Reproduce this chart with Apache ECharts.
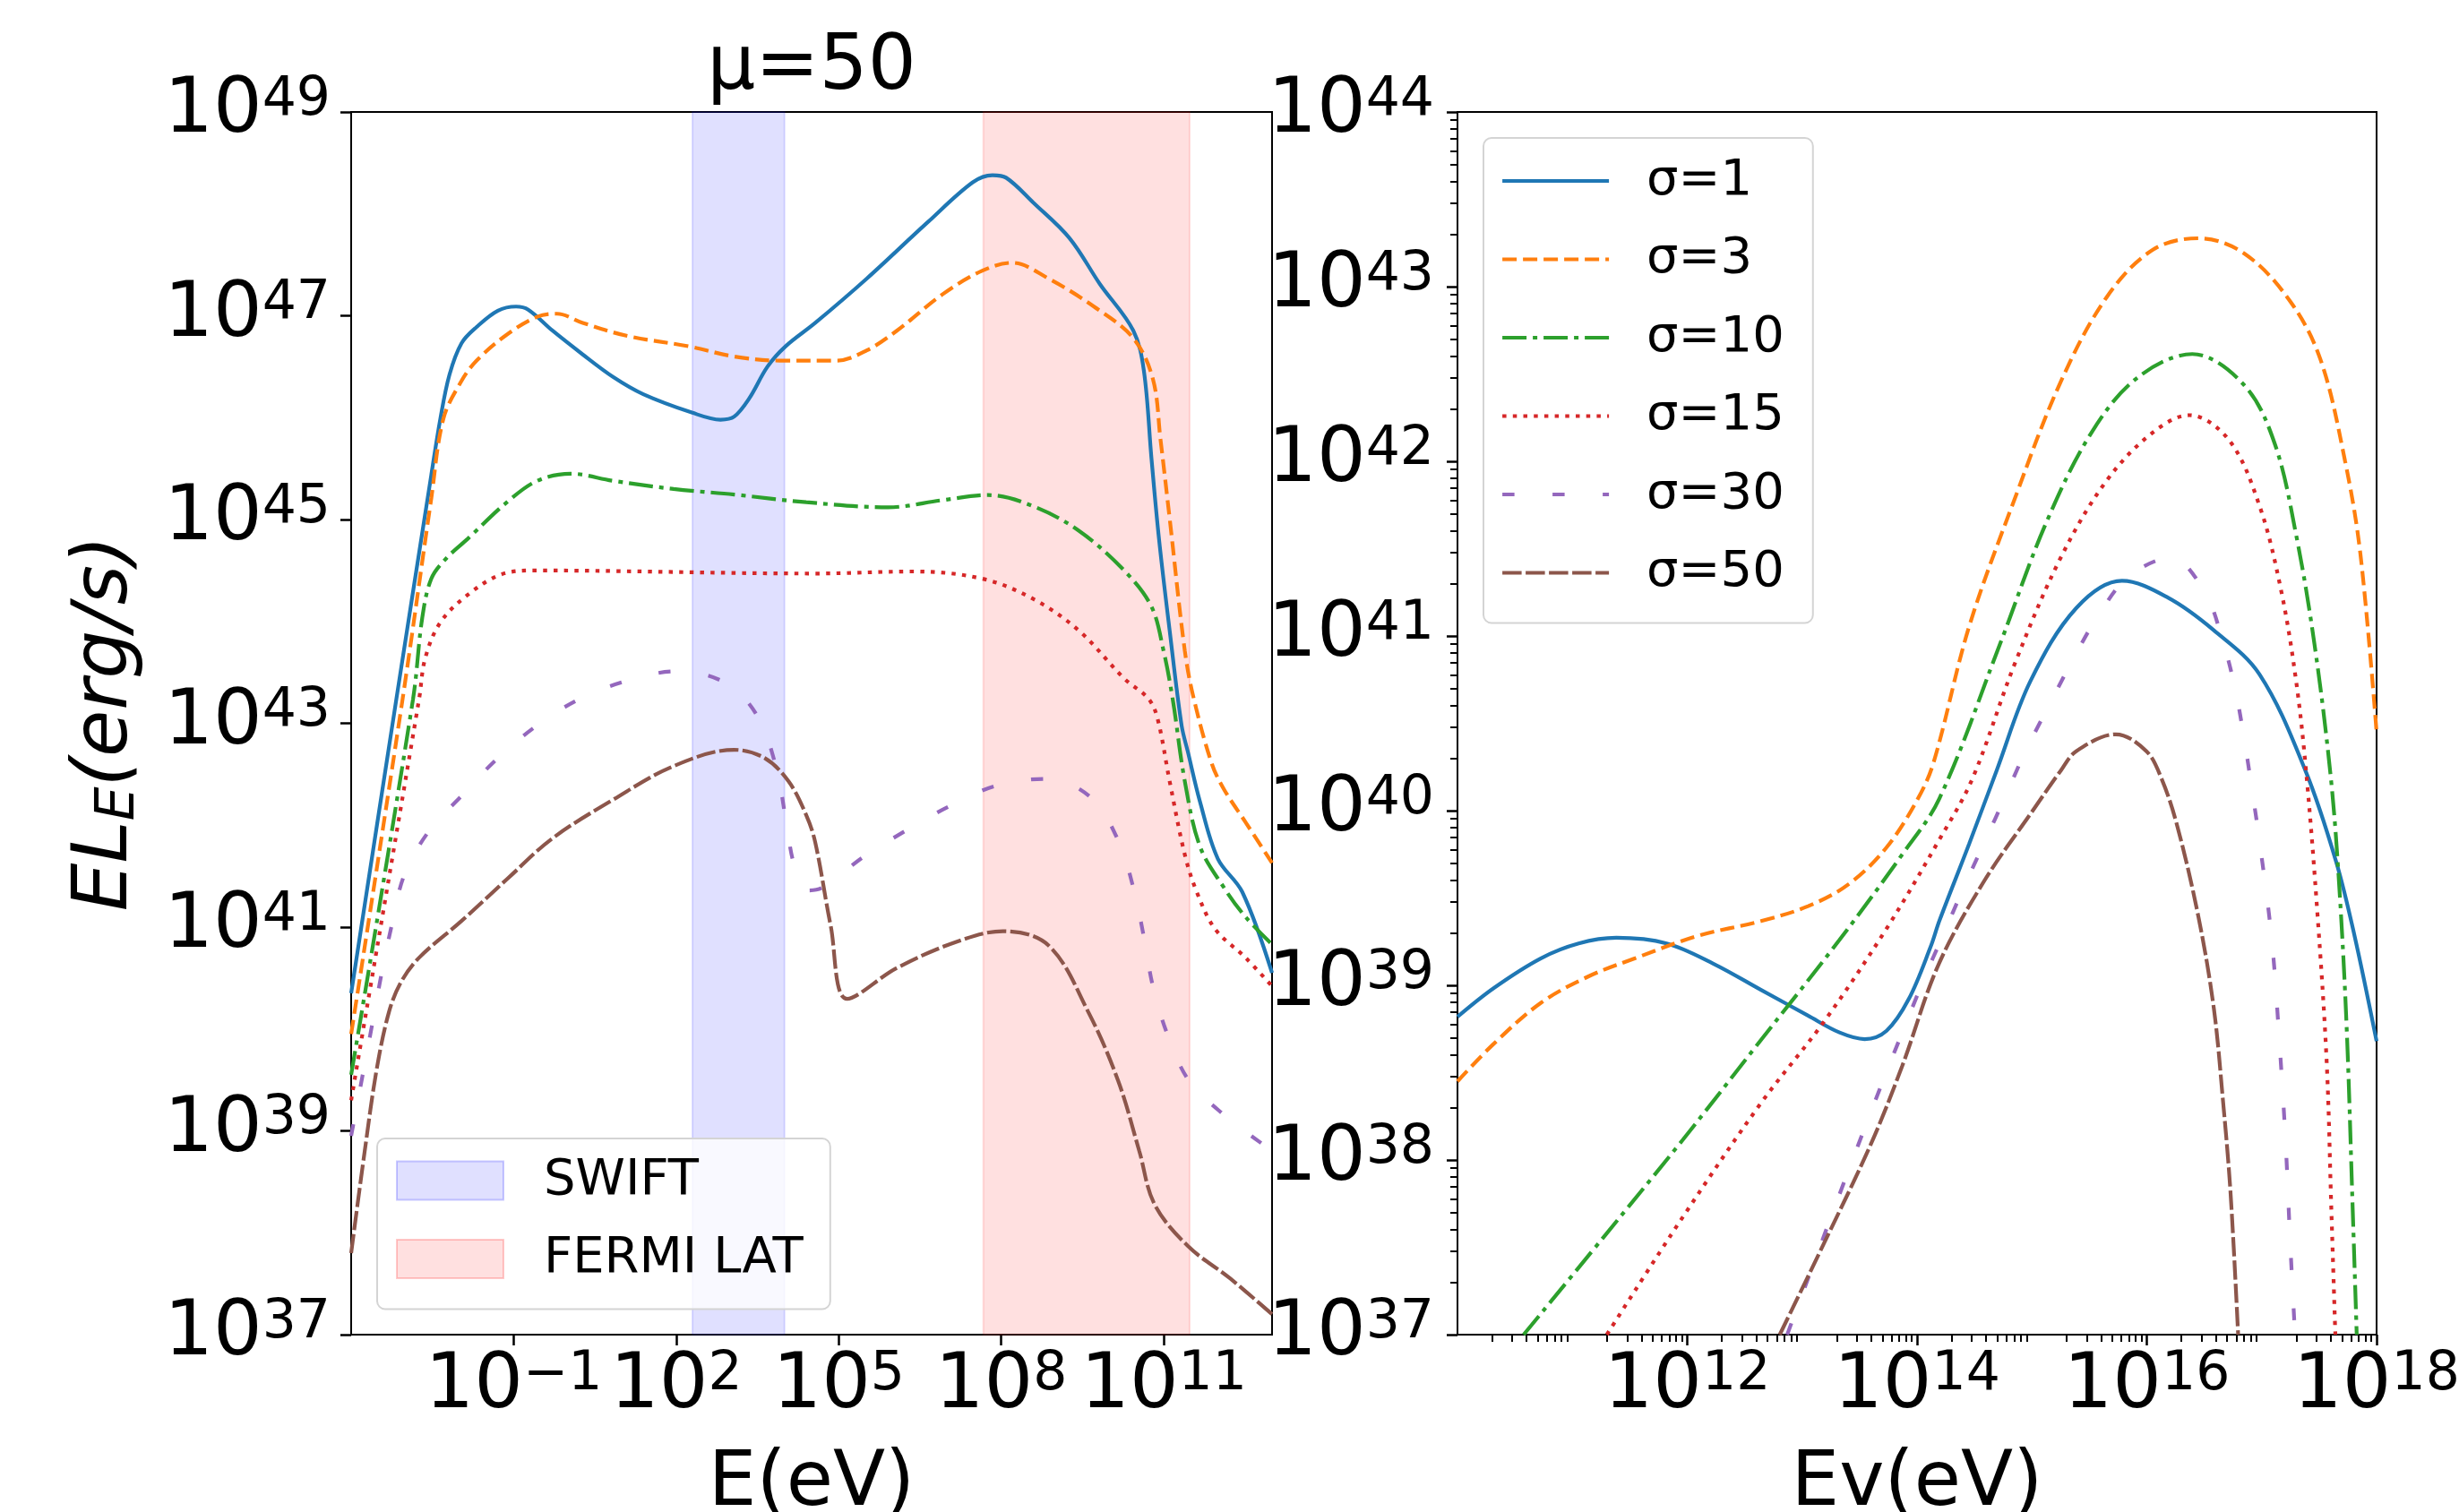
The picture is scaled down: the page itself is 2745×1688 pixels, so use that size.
<!DOCTYPE html>
<html><head><meta charset="utf-8">
<script src="https://cdn.jsdelivr.net/npm/echarts@6/dist/echarts.min.js"></script>
<style>html,body{margin:0;padding:0;background:#fff}#c{width:2745px;height:1688px}</style>
</head><body><div id="c"></div>
<script>
// ---- names & tick labels ----
const seriesNames = ['σ=1', 'σ=3', 'σ=10', 'σ=15', 'σ=30', 'σ=50'];
const bandNames = ['SWIFT', 'FERMI LAT'];
const leftXTicks = [-1, 2, 5, 8, 11];          // exponents of 10 (eV)
const leftYTicks = [37, 39, 41, 43, 45, 47, 49];
const rightXTicks = [12, 14, 16, 18];
const rightYTicks = [37, 38, 39, 40, 41, 42, 43, 44];
// instrument bands, log10(E/eV)
const swiftBand = [2.30, 4.0];
const fermiBand = [7.67, 11.48];

// ---- left panel: [log10 E(eV), log10 EL_E(erg/s)] ----
const left1 = [[-4.0,40.35],[-3.165,43.24],[-2.52,45.44],[-2.353,45.99],[-2.186,46.42],[-1.963,46.73],[-1.683,46.89],[-1.291,47.05],[-0.955,47.09],[-0.732,47.06],[-0.286,46.855],[0.275,46.62],[0.834,46.40],[1.393,46.23],[2.288,46.05],[2.818,45.98],[3.07,46.01],[3.35,46.19],[3.685,46.50],[4.02,46.70],[4.568,46.93],[5.519,47.365],[6.637,47.915],[7.475,48.31],[7.839,48.38],[8.09,48.355],[8.593,48.11],[9.264,47.76],[9.823,47.31],[10.438,46.855],[10.634,46.46],[10.774,45.6],[10.913,44.81],[11.11,43.91],[11.33,42.98],[11.446,42.72],[11.67,42.23],[12.0,41.67],[12.45,41.345],[13.0,40.55]];
const left3 = [[-4.0,39.95],[-3.05,43.24],[-2.52,45.21],[-2.297,45.99],[-1.963,46.36],[-1.683,46.56],[-1.124,46.815],[-0.565,46.99],[-0.2,47.02],[0.275,46.93],[1.113,46.80],[2.231,46.70],[3.07,46.60],[3.908,46.56],[4.96,46.56],[5.519,46.66],[6.078,46.855],[6.916,47.21],[7.644,47.44],[8.203,47.52],[8.874,47.365],[9.712,47.09],[10.438,46.78],[10.80,46.38],[10.94,45.79],[11.11,45.01],[11.39,43.71],[11.556,43.24],[11.89,42.60],[12.115,42.35],[12.51,42.03],[13.0,41.63]];
const left10 = [[-4.0,39.55],[-2.857,43.24],[-2.689,44.03],[-2.52,44.42],[-2.242,44.62],[-1.85,44.81],[-1.124,45.17],[-0.565,45.38],[0.05,45.45],[0.834,45.38],[1.952,45.30],[3.07,45.245],[4.4,45.17],[5.91,45.12],[6.916,45.19],[7.755,45.24],[8.593,45.13],[9.433,44.89],[10.27,44.50],[10.774,44.145],[10.998,43.71],[11.165,43.24],[11.39,42.43],[11.67,41.79],[12.115,41.385],[12.51,41.10],[13.0,40.83]];
const left15 = [[-4.0,39.3],[-2.745,43.24],[-2.632,43.64],[-2.353,43.99],[-1.85,44.26],[-1.235,44.46],[-0.62,44.50],[4.57,44.47],[6.357,44.49],[7.644,44.42],[8.593,44.22],[9.433,43.91],[10.27,43.44],[10.72,43.24],[10.887,43.045],[11.11,42.43],[11.39,41.71],[11.61,41.345],[11.95,40.98],[12.51,40.70],[13.0,40.42]];
const left30 = [[-4.0,38.95],[-3.78,39.57],[-3.61,40.05],[-3.44,40.54],[-3.25,41.02],[-3.02,41.51],[-2.58,41.93],[-1.96,42.29],[-1.29,42.66],[-0.565,42.98],[0.22,43.24],[1.113,43.42],[2.008,43.51],[2.90,43.40],[3.49,43.08],[3.85,42.56],[4.02,42.07],[4.19,41.59],[4.45,41.36],[4.71,41.39],[5.46,41.69],[6.25,41.95],[7.06,42.19],[7.92,42.39],[8.85,42.455],[9.66,42.27],[10.16,41.85],[10.44,41.385],[10.635,40.90],[10.80,40.42],[11.08,39.93],[11.47,39.49],[12.14,39.145],[12.90,38.84],[13.0,38.80]];
const left50 = [[-4.0,37.8],[-3.75,38.80],[-3.527,39.61],[-3.30,40.17],[-3.08,40.46],[-2.745,40.70],[-1.963,41.06],[-1.124,41.47],[-0.286,41.87],[0.834,42.25],[1.952,42.58],[3.07,42.74],[3.63,42.66],[4.075,42.43],[4.4,42.1],[4.568,41.83],[4.85,41.02],[5.155,40.295],[6.078,40.60],[7.196,40.86],[8.034,40.96],[8.874,40.82],[9.60,40.175],[10.16,39.49],[10.55,38.80],[10.83,38.28],[11.446,37.87],[12.23,37.55],[13.0,37.2]];

// ---- right panel: [log10 Ev(eV), log10 EL_E(erg/s)] ----
const right1 = [[10.0,38.82],[10.317,38.985],[10.727,39.155],[11.055,39.24],[11.383,39.272],[11.82,39.24],[12.23,39.123],[12.642,38.974],[13.052,38.826],[13.325,38.73],[13.544,38.692],[13.735,38.74],[13.927,38.92],[14.118,39.22],[14.195,39.37],[14.454,39.81],[14.693,40.23],[14.986,40.74],[15.385,41.159],[15.784,41.316],[16.183,41.22],[16.583,41.033],[16.981,40.78],[17.38,40.23],[17.647,39.71],[17.806,39.29],[18.0,38.68]];
const right3 = [[10.0,38.45],[10.317,38.666],[10.727,38.90],[11.137,39.05],[11.547,39.155],[12.094,39.283],[12.642,39.368],[13.052,39.453],[13.407,39.58],[13.735,39.79],[14.009,40.07],[14.146,40.28],[14.454,41.055],[14.853,41.79],[15.252,42.457],[15.651,42.94],[16.05,43.21],[16.449,43.277],[16.848,43.19],[17.247,42.917],[17.513,42.58],[17.726,42.0],[17.859,41.47],[18.0,40.45]];
const right10 = [[10.576,37.0],[11.274,37.56],[11.958,38.113],[12.642,38.687],[13.325,39.26],[13.872,39.75],[14.195,40.07],[14.72,40.95],[15.119,41.64],[15.518,42.164],[15.917,42.478],[16.396,42.614],[16.848,42.436],[17.114,42.10],[17.30,41.578],[17.46,40.95],[17.60,40.2],[17.672,39.60],[17.739,38.766],[17.792,37.72],[17.827,37.0]];
const right15 = [[11.30,37.0],[11.958,37.67],[12.642,38.326],[13.188,38.79],[13.735,39.325],[14.195,39.835],[14.48,40.18],[14.853,40.845],[15.252,41.45],[15.651,41.89],[16.05,42.164],[16.37,42.264],[16.715,42.122],[16.981,41.745],[17.168,41.264],[17.30,40.74],[17.39,40.2],[17.487,39.393],[17.566,38.556],[17.606,37.72],[17.641,37.0]];
const right30 = [[12.87,37.0],[12.94,37.125],[13.56,38.21],[14.05,39.02],[14.228,39.29],[14.4,39.55],[14.587,39.82],[14.768,40.08],[14.93,40.32],[15.146,40.60],[15.358,40.866],[15.571,41.11],[15.837,41.337],[16.21,41.448],[16.502,41.253],[16.662,40.97],[16.768,40.70],[16.848,40.41],[16.914,40.126],[16.98,39.83],[17.088,39.26],[17.154,38.68],[17.208,38.106],[17.248,37.53],[17.29,37.0]];
const right50 = [[12.805,37.0],[13.188,37.52],[13.598,38.09],[13.872,38.54],[14.188,39.12],[14.587,39.60],[14.986,39.98],[15.252,40.23],[15.385,40.34],[15.731,40.437],[15.997,40.34],[16.13,40.18],[16.263,39.917],[16.449,39.393],[16.583,38.87],[16.662,38.347],[16.728,37.82],[16.795,37.0]];

const leftData = [left1, left3, left10, left15, left30, left50];
const rightData = [right1, right3, right10, right15, right30, right50];

// ---- styles ----
const colors = ['#1f77b4', '#ff7f0e', '#2ca02c', '#d62728', '#9467bd', '#8c564b'];
const dashes = ['solid', [16, 7], [27, 7, 5, 7], [4.5, 7.2], [13.5, 42.5], [21.5, 4.5]];
const FONT = 'DejaVu Sans';
const LW = 4.2;

// log-spaced minor tick positions (2..9 x 10^n) for the right panel
function minorTicks(a, b) {
  const out = [];
  for (let d = a; d < b; d++) for (let k = 2; k <= 9; k++) out.push(d + Math.log10(k));
  return out;
}
const rightXMinor = minorTicks(10, 18);
const rightYMinor = minorTicks(37, 44);

function powLabel(v) {
  const e = Math.round(v);
  const s = e < 0 ? '\u2212' + (-e) : String(e);
  return '{b|10}{s|' + s + '}';
}
const labelRich = {
  b: { fontFamily: FONT, fontSize: 86, lineHeight: 86, color: '#000', verticalAlign: 'middle' },
  s: { fontFamily: FONT, fontSize: 60, lineHeight: 60, color: '#000', verticalAlign: 'middle', padding: [0, 0, 26, 0] }
};

function mainAxis(grid, min, max, ticks, margin, extra) {
  return Object.assign({
    type: 'value', gridIndex: grid, min: min, max: max,
    axisLine: { show: true, onZero: false, lineStyle: { color: '#000', width: 2 } },
    axisTick: { show: true, length: 12, customValues: ticks, lineStyle: { color: '#000', width: 2.5 } },
    axisLabel: { show: true, customValues: ticks, formatter: powLabel, rich: labelRich, margin: margin },
    splitLine: { show: false }
  }, extra || {});
}
function minorAxis(grid, min, max, ticks, pos) {
  return {
    type: 'value', gridIndex: grid, min: min, max: max, position: pos,
    axisLine: { show: false, onZero: false },
    axisTick: { show: true, length: 8, customValues: ticks, lineStyle: { color: '#000', width: 2 } },
    axisLabel: { show: false },
    splitLine: { show: false }
  };
}

const nameRich = {
  it: { fontFamily: FONT, fontSize: 85, fontStyle: 'italic', color: '#000', lineHeight: 85, verticalAlign: 'middle' },
  sub: { fontFamily: FONT, fontSize: 60, fontStyle: 'italic', color: '#000', lineHeight: 60, verticalAlign: 'middle', padding: [30, 0, 0, 0] }
};
const xNameStyle = { fontFamily: FONT, fontSize: 85, color: '#000' };

const xAxes = [
  mainAxis(0, -4, 13, leftXTicks, 15.5, { position: 'bottom', name: 'E(eV)', nameLocation: 'middle', nameGap: 125, nameTextStyle: xNameStyle }),
  mainAxis(1, 10, 18, rightXTicks, 15.5, { position: 'bottom', name: 'Ev(eV)', nameLocation: 'middle', nameGap: 125, nameTextStyle: xNameStyle }),
  minorAxis(1, 10, 18, rightXMinor, 'bottom')
];
const yAxes = [
  mainAxis(0, 37, 49, leftYTicks, 23, { position: 'left', name: '{it|EL}{sub|E}{it|(erg/s)}', nameLocation: 'middle',
    nameRotate: 90, nameGap: 231, nameTextStyle: { rich: nameRich } }),
  mainAxis(1, 37, 44, rightYTicks, 26, { position: 'left' }),
  minorAxis(1, 37, 44, rightYMinor, 'left')
];

const series = [];
// instrument bands
const bandDefs = [[bandNames[0], swiftBand, '0,0,255'], [bandNames[1], fermiBand, '255,0,0']];
bandDefs.forEach(function (b) {
  series.push({
    name: b[0], type: 'line', xAxisIndex: 0, yAxisIndex: 0, data: [], z: 1, silent: true,
    markArea: {
      silent: true,
      itemStyle: { color: 'rgba(' + b[2] + ',0.12)', borderColor: 'rgba(' + b[2] + ',0.12)', borderWidth: 2 },
      data: [[{ xAxis: b[1][0] }, { xAxis: b[1][1] }]]
    }
  });
});
function addCurves(data, xi, yi) {
  data.forEach(function (d, i) {
    series.push({
      name: seriesNames[i], type: 'line', xAxisIndex: xi, yAxisIndex: yi, data: d,
      showSymbol: false, symbol: 'none', smooth: 0.35, clip: true, z: 3,
      lineStyle: { color: colors[i], width: LW, type: dashes[i] },
      itemStyle: { color: colors[i] }
    });
  });
}
addCurves(leftData, 0, 0);
addCurves(rightData, 1, 1);

const legendCommon = {
  orient: 'vertical', selectedMode: false, itemWidth: 119,
  backgroundColor: 'rgba(255,255,255,0.8)', borderColor: '#d4d4d4', borderWidth: 2, borderRadius: 9,
  itemGap: 31.5
};
function legendText(padLeft) {
  return { fontFamily: FONT, fontSize: 56, lineHeight: 56, color: '#000', padding: [0, 0, 0, padLeft] };
}

const gridCommon = { show: true, borderColor: '#000', borderWidth: 2, backgroundColor: 'rgba(0,0,0,0)',
  containLabel: false, outerBoundsMode: 'none' };

const option = {
  animation: false,
  backgroundColor: '#fff',
  title: { text: 'μ=50', left: 906, top: 34, padding: 0, textAlign: 'center',
    textStyle: { fontFamily: FONT, fontSize: 85, fontWeight: 'normal', color: '#000' } },
  grid: [
    Object.assign({ left: 392, top: 125, width: 1028, height: 1365 }, gridCommon),
    Object.assign({ left: 1627, top: 125, width: 1026, height: 1365 }, gridCommon)
  ],
  xAxis: xAxes,
  yAxis: yAxes,
  legend: [
    Object.assign({}, legendCommon, {
      left: 421, top: 1271, itemHeight: 43, padding: [19, 30, 28, 21],
      textStyle: legendText(40),
      data: [
        { name: bandNames[0], icon: 'rect', itemStyle: { color: 'rgba(0,0,255,0.12)', borderColor: 'rgba(0,0,255,0.2)', borderWidth: 2 } },
        { name: bandNames[1], icon: 'rect', itemStyle: { color: 'rgba(255,0,0,0.12)', borderColor: 'rgba(255,0,0,0.2)', borderWidth: 2 } }
      ]
    }),
    Object.assign({}, legendCommon, {
      left: 1656, top: 154, itemHeight: 30, padding: [20, 32, 28, 19],
      textStyle: legendText(37),
      itemStyle: { opacity: 0 },
      lineStyle: { width: LW },
      data: seriesNames.slice()
    })
  ],
  series: series
};

const chart = echarts.init(document.getElementById('c'), null, { renderer: 'canvas', width: 2745, height: 1688 });
chart.setOption(option);
</script>
</body></html>
